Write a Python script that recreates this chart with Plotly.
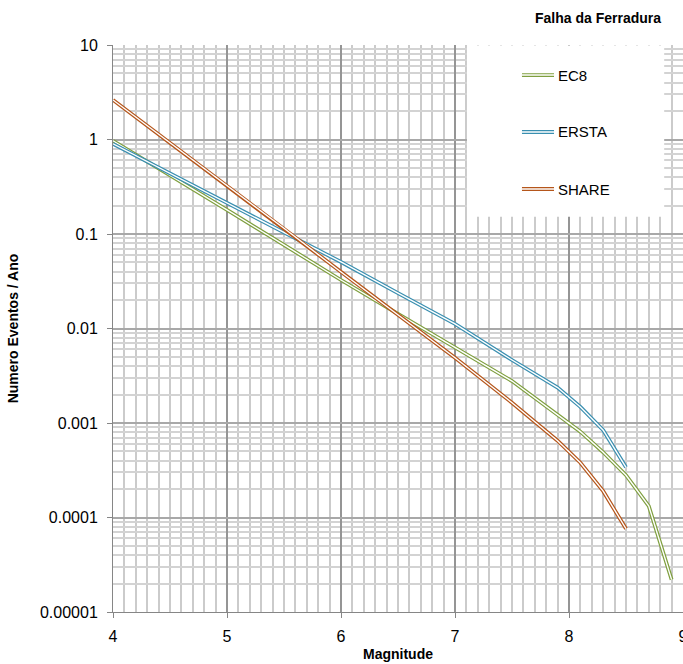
import plotly.graph_objects as go

# ---- data ----
mag_ec8 = [4.0, 4.5, 5.0, 5.5, 6.0, 6.5, 7.0, 7.5, 7.9, 8.1, 8.3, 8.5, 8.7, 8.9]
ec8 = [0.97, 0.42, 0.18, 0.0766, 0.0326, 0.0143, 0.00628, 0.00278, 0.00122,
       0.00081, 0.00049, 0.00028, 0.000132, 0.000022]

mag_ersta = [4.0, 4.5, 5.0, 5.5, 6.0, 6.5, 7.0, 7.5, 7.9, 8.1, 8.3, 8.5]
ersta = [0.90, 0.44, 0.215, 0.104, 0.0506, 0.0237, 0.0112, 0.00464, 0.00237,
         0.00148, 0.00084, 0.00034]

mag_share = [4.0, 4.5, 5.0, 5.5, 6.0, 6.5, 7.0, 7.5, 7.9, 8.1, 8.3, 8.5]
share = [2.62, 0.92, 0.33, 0.115, 0.0396, 0.014, 0.0049, 0.00164, 0.00065,
         0.00038, 0.00019, 0.000076]

series_names = ["EC8", "ERSTA", "SHARE"]
series_colors = ["#7f9f3f", "#3a8fb0", "#b5561b"]

y_tickvals = [10, 1, 0.1, 0.01, 0.001, 0.0001, 0.00001]
y_ticktext = ["10", "1", "0.1", "0.01", "0.001", "0.0001", "0.00001"]
x_tickvals = [4, 5, 6, 7, 8, 9]

title_text = "Falha da Ferradura"
x_title = "Magnitude"
y_title = "Numero Eventos / Ano"

FONT = "Liberation Sans, Arial, sans-serif"
OUTER_W = 3.8
INNER_W = 1.4

fig = go.Figure()
all_x = [mag_ec8, mag_ersta, mag_share]
all_y = [ec8, ersta, share]
for name, col, xs, ys in zip(series_names, series_colors, all_x, all_y):
    fig.add_trace(go.Scatter(x=xs, y=ys, mode="lines", name=name,
                             line=dict(color=col, width=OUTER_W),
                             showlegend=False, hoverinfo="skip"))
    fig.add_trace(go.Scatter(x=xs, y=ys, mode="lines", name=name,
                             line=dict(color="white", width=INNER_W),
                             showlegend=False, hoverinfo="skip"))

# ---- manual legend (double lines) ----
shapes = [dict(type="rect", xref="paper", yref="paper", x0=0.621, x1=0.967,
               y0=0.697, y1=0.999, fillcolor="white", line=dict(width=0),
               layer="above")]
annotations = []
leg_y = [0.947, 0.8466, 0.746]
for name, col, ly in zip(series_names, series_colors, leg_y):
    shapes.append(dict(type="line", xref="paper", yref="paper", x0=0.7175, x1=0.7737,
                       y0=ly, y1=ly, line=dict(color=col, width=OUTER_W), layer="above"))
    shapes.append(dict(type="line", xref="paper", yref="paper", x0=0.7175, x1=0.7737,
                       y0=ly, y1=ly, line=dict(color="white", width=INNER_W), layer="above"))
    annotations.append(dict(text=name, xref="paper", yref="paper", x=0.7775, y=ly,
                            xanchor="left", yanchor="middle", showarrow=False,
                            font=dict(family=FONT, size=15, color="#000")))

annotations.append(dict(text="<b>%s</b>" % title_text, xref="paper", yref="paper",
                        x=0.965, y=1.0, yshift=27, xanchor="right", yanchor="middle",
                        showarrow=False, font=dict(family=FONT, size=14, color="#000")))

fig.update_layout(
    width=683, height=664,
    margin=dict(l=113, r=0, t=45, b=52, autoexpand=False),
    paper_bgcolor="white", plot_bgcolor="white",
    font=dict(family=FONT, size=15, color="#000"),
    shapes=shapes, annotations=annotations,
    showlegend=False,
)

fig.update_xaxes(
    range=[4, 9], tickvals=x_tickvals, ticks="outside", ticklen=5,
    tickcolor="#868686", showline=True, linecolor="#868686", linewidth=1,
    showgrid=True, gridcolor="#959595", gridwidth=2,
    minor=dict(dtick=0.1, showgrid=True, gridcolor="#cbcbcb", gridwidth=2),
    tickfont=dict(family=FONT, size=16), ticklabelstandoff=5,
    ticklabeloverflow="allow", automargin=False,
    title=dict(text="<b>%s</b>" % x_title, font=dict(family=FONT, size=14), standoff=4),
    zeroline=False,
)
fig.update_yaxes(
    type="log", range=[-5, 1], tickvals=y_tickvals, ticktext=y_ticktext,
    ticks="outside", ticklen=5, tickcolor="#868686",
    showline=True, linecolor="#868686", linewidth=1,
    showgrid=True, gridcolor="#a8a8a8", gridwidth=2,
    minor=dict(dtick="D1", showgrid=True, gridcolor="#d3d3d3", gridwidth=2),
    tickfont=dict(family=FONT, size=16), ticklabelstandoff=6,
    ticklabeloverflow="allow", automargin=False,
    title=dict(text="<b>%s</b>" % y_title, font=dict(family=FONT, size=14), standoff=18),
    zeroline=False,
)

fig.write_html("out.html")
